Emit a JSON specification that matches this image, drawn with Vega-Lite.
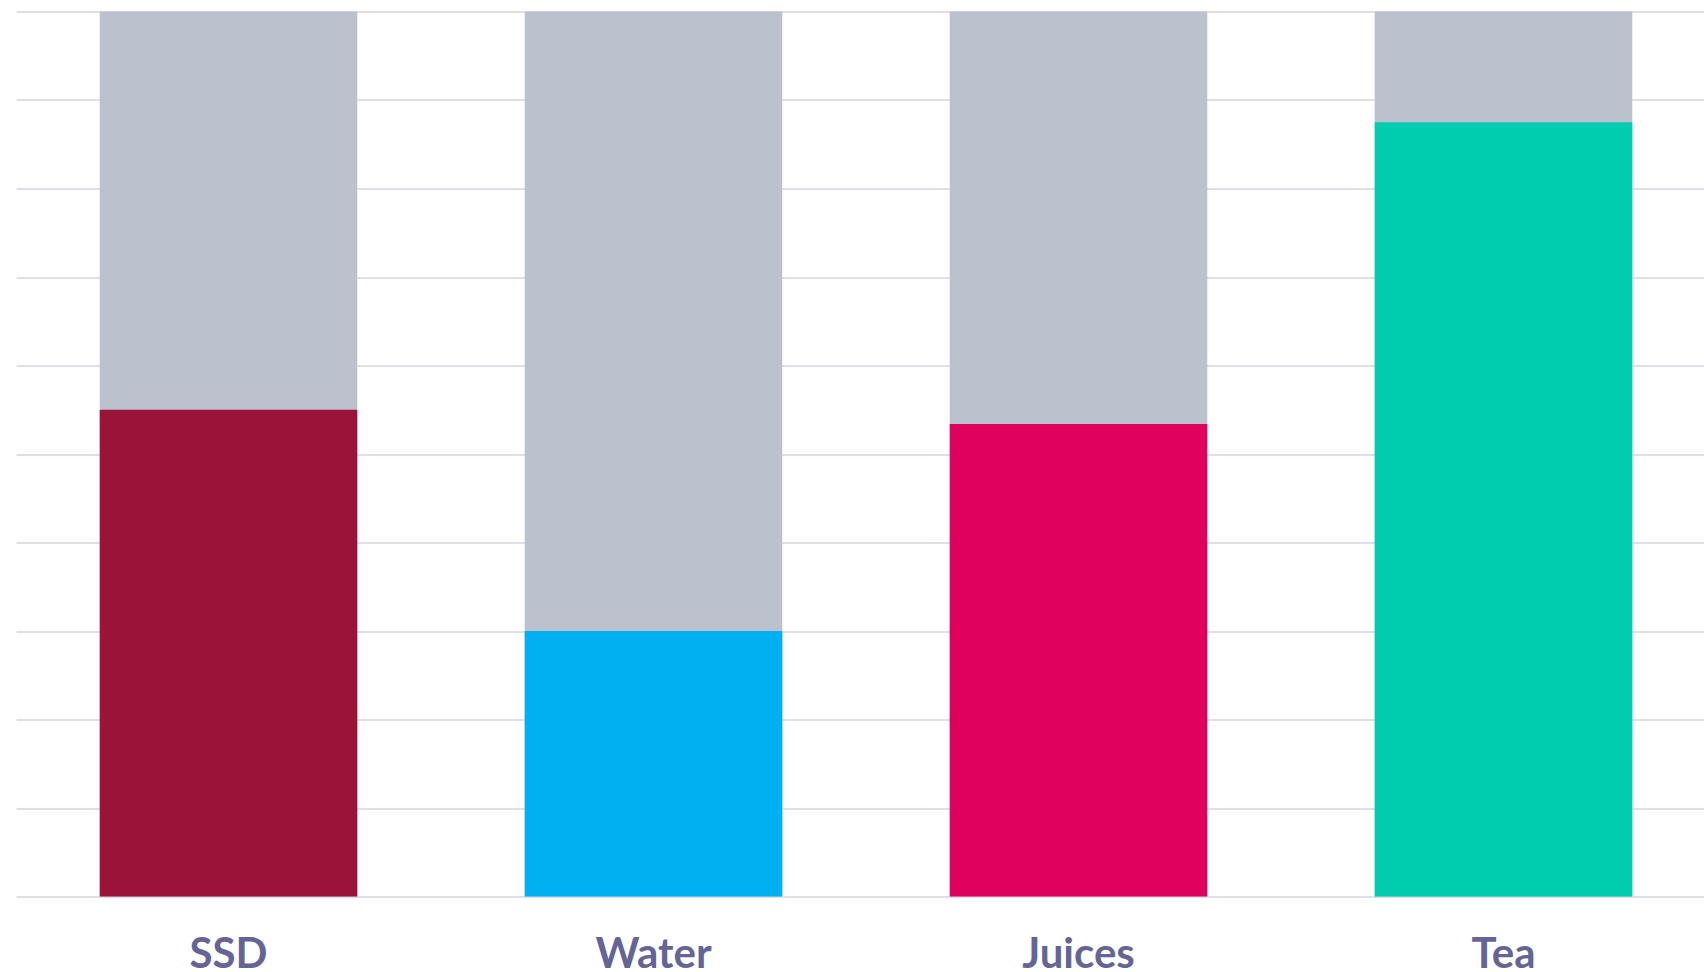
{
  "$schema": "https://vega.github.io/schema/vega-lite/v6.json",
  "width": 1700,
  "height": 885,
  "autosize": {"type": "none"},
  "padding": {"left": 16, "top": 11.5, "right": 0, "bottom": 80},
  "background": "white",
  "config": {
    "view": {"stroke": null},
    "font": "Lato"
  },
  "data": {
    "values": [
      {"drink": "SSD", "share": 55},
      {"drink": "Water", "share": 30},
      {"drink": "Juices", "share": 53.4},
      {"drink": "Tea", "share": 87.5}
    ]
  },
  "encoding": {
    "x": {
      "field": "drink",
      "type": "nominal",
      "sort": ["SSD", "Water", "Juices", "Tea"],
      "scale": {"paddingInner": 0.394, "paddingOuter": 0.197},
      "axis": {
        "title": null,
        "domain": false,
        "ticks": false,
        "labelAngle": 0,
        "labelFont": "Lato",
        "labelFontWeight": "bold",
        "labelFontSize": 42,
        "labelColor": "#646496",
        "labelBaseline": "alphabetic",
        "labelPadding": 71
      }
    }
  },
  "layer": [
    {
      "mark": {"type": "bar", "color": "#bbc1cd"},
      "encoding": {
        "y": {
          "datum": 100,
          "type": "quantitative",
          "scale": {"domain": [0, 100], "nice": false},
          "axis": {
            "title": null,
            "domain": false,
            "ticks": false,
            "labels": false,
            "values": [0, 10, 20, 30, 40, 50, 60, 70, 80, 90, 100],
            "grid": true,
            "gridColor": "#dfdfea",
            "gridWidth": 2,
            "zindex": 0
          }
        }
      }
    },
    {
      "mark": {"type": "bar"},
      "encoding": {
        "y": {"field": "share", "type": "quantitative"},
        "color": {
          "field": "drink",
          "type": "nominal",
          "scale": {
            "domain": ["SSD", "Water", "Juices", "Tea"],
            "range": ["#9b1339", "#00b0f0", "#e0005e", "#00ccb0"]
          },
          "legend": null
        }
      }
    }
  ]
}
